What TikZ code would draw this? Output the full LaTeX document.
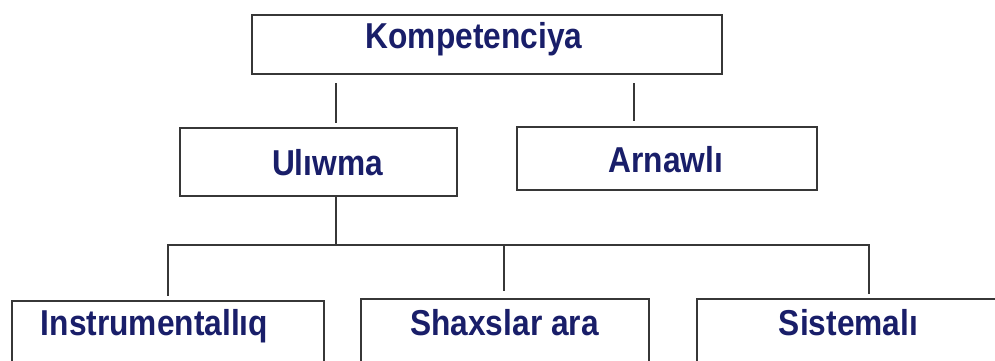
\documentclass[tikz,border=0pt]{standalone}
\usepackage{fontspec}
\setmainfont{Liberation Sans}[FakeStretch=0.88]
\definecolor{txt}{RGB}{25,30,105}
\definecolor{ln}{RGB}{55,55,55}
\begin{document}
\begin{tikzpicture}[x=1pt,y=-1pt,
  box/.style={draw=ln,line width=2pt,inner sep=0pt,fill=white},
  lbl/.style={text=txt,font=\fontsize{36}{40}\selectfont\bfseries,inner sep=0pt,anchor=base},
  conn/.style={draw=ln,line width=1.6pt}]
\path[use as bounding box, clip] (0,0) rectangle (995,360);
\fill[white] (0,0) rectangle (995,360);
% boxes
\node[box, minimum width=470pt, minimum height=59pt] (k) at (487,44.5) {};
\node[box, minimum width=277pt, minimum height=68pt] (u) at (318.5,162) {};
\node[box, minimum width=300pt, minimum height=63pt] (a) at (667,158.5) {};
\node[box, minimum width=312pt, minimum height=99pt] (i) at (168,350.5) {};
\node[box, minimum width=288pt, minimum height=101pt] (s) at (505,349.5) {};
\node[box, minimum width=313pt, minimum height=101pt] (m) at (853.5,349.5) {};
% labels
\node[lbl] (kt) at (474,48) {Kompetenciya};
\node[lbl] (ut) at (327.5,175) {Ulıwma};
\node[lbl] (at) at (666,172) {Arnawlı};
\node[lbl] (it) at (154.5,335) {Instrumentallıq};
\node[lbl] (st) at (504.5,335) {Shaxslar ara};
\node[lbl] (mt) at (848.5,335) {Sistemalı};
% connectors
\draw[conn, shorten <=8pt, shorten >=4pt] (k.south -| 336,0) -- (u.north -| 336,0);
\draw[conn, shorten <=8pt, shorten >=5pt] (k.south -| 634,0) -- (a.north -| 634,0);
\coordinate (bus) at (336,245);
\draw[conn] (u.south -| bus) -- (bus);
\draw[conn, shorten >=4pt] (bus) -| (i.north -| 168,0);
\draw[conn, shorten >=7pt] (bus) -| (s.north -| 504,0);
\draw[conn, shorten >=4pt] (bus) -| (m.north -| 869,0);
\end{tikzpicture}
\end{document}
